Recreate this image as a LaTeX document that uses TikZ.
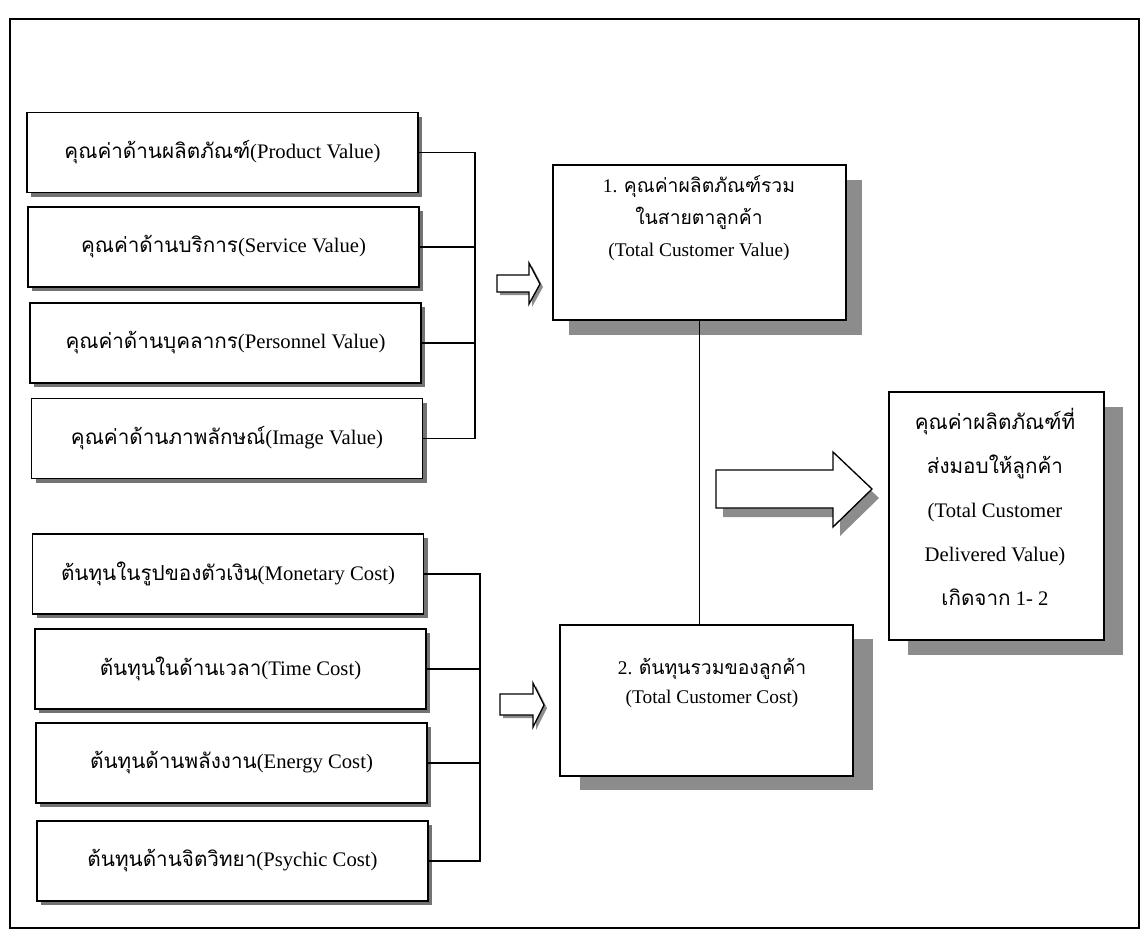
\documentclass[tikz,border=0pt]{standalone}
\usepackage{fontspec}
\setmainfont{Liberation Serif}
\newfontfamily\thai[Script=Thai]{Loma}
\usetikzlibrary{shadows}
\newcommand{\T}[1]{{\thai #1}}
\begin{document}
\begin{tikzpicture}[x=0.75pt,y=-0.75pt,line join=miter,
  lbox/.style={draw,line width=1.3pt,fill=white,minimum width=293.25pt,minimum height=60pt,inner sep=0pt,
    font=\fontsize{15.5}{18}\selectfont,
    drop shadow={shadow xshift=3pt,shadow yshift=-3pt,fill=black!55,opacity=1}},
  bigbox/.style={draw,line width=1.3pt,fill=white,inner sep=0pt},
  txt/.style={align=center,inner sep=0pt},
  conn/.style={line width=0.9pt},
  blockarrow/.style={draw,line width=1pt,fill=white},
  arrowshadow/.style={fill=black!45}]
\useasboundingbox (0,0) rectangle (1142,933);
% outer frame
\draw[line width=1.2pt] (10,19) rectangle (1139,928);

% value boxes
\node[lbox] (p1) at (222.5,152.5) {\T{คุณค่าด้านผลิตภัณฑ์}(Product Value)};
\node[lbox] (p2) at (223.5,247) {\T{คุณค่าด้านบริการ}(Service Value)};
\node[lbox] (p3) at (225.5,343) {\T{คุณค่าด้านบุคลากร}(Personnel Value)};
\node[lbox] (p4) at (227,438.5) {\T{คุณค่าด้านภาพลักษณ์}(Image Value)};
% cost boxes
\node[lbox] (c1) at (228,574) {\T{ต้นทุนในรูปของตัวเงิน}(Monetary Cost)};
\node[lbox] (c2) at (230.5,669) {\T{ต้นทุนในด้านเวลา}(Time Cost)};
\node[lbox] (c3) at (231.5,763) {\T{ต้นทุนด้านพลังงาน}(Energy Cost)};
\node[lbox] (c4) at (232.5,861) {\T{ต้นทุนด้านจิตวิทยา}(Psychic Cost)};

% bus connectors
\coordinate (vx1) at (475,0);
\coordinate (vx2) at (480,0);
\draw[conn] (p1.east) -| (p4.east -| vx1) -- (p4.east);
\draw[conn] (p2.east) -- (p2.east -| vx1);
\draw[conn] (p3.east) -- (p3.east -| vx1);
\draw[conn] (c1.east) -| (c4.east -| vx2) -- (c4.east);
\draw[conn] (c2.east) -- (c2.east -| vx2);
\draw[conn] (c3.east) -- (c3.east -| vx2);

% middle boxes
\node[bigbox,minimum width=219.75pt,minimum height=116.25pt,
  drop shadow={shadow xshift=12pt,shadow yshift=-11pt,fill=black!45,opacity=1}] (b1) at (699.5,242.5) {};
\node[txt,font=\fontsize{14.5}{24}\selectfont] (b1t) at (699,218)
  {1. \T{คุณค่าผลิตภัณฑ์รวม}\\ \T{ในสายตาลูกค้า}\\ (Total Customer Value)};
\node[bigbox,minimum width=219.75pt,minimum height=113.25pt,
  drop shadow={shadow xshift=15pt,shadow yshift=-10.5pt,fill=black!45,opacity=1}] (b2) at (706.5,700.5) {};
\node[txt,font=\fontsize{14.5}{22}\selectfont] (b2t) at (712,683)
  {2. \T{ต้นทุนรวมของลูกค้า}\\ (Total Customer Cost)};

% right box
\node[bigbox,minimum width=161.25pt,minimum height=186pt,
  drop shadow={shadow xshift=14pt,shadow yshift=-11pt,fill=black!45,opacity=1}] (r) at (996.5,516) {};
\node[txt,font=\fontsize{15.5}{33}\selectfont] (rt) at (995,507)
  {\T{คุณค่าผลิตภัณฑ์ที่}\\ \T{ส่งมอบให้ลูกค้า}\\ (Total Customer\\ Delivered Value)\\ \T{เกิดจาก} 1- 2};

% connector between box 1 and box 2
\draw[conn] (b1.south) -- (b2.north -| b1.south);

% block arrows
\fill[arrowshadow,shift={(3,3)}] (497,275) -- (529,275) -- (529,263) -- (540,284) -- (529,304) -- (529,292) -- (497,292) -- cycle;
\draw[blockarrow] (497,275) -- (529,275) -- (529,263) -- (540,284) -- (529,304) -- (529,292) -- (497,292) -- cycle;
\fill[arrowshadow,shift={(3,3)}] (500,694) -- (533,694) -- (533,683) -- (544,705) -- (533,727) -- (533,715) -- (500,715) -- cycle;
\draw[blockarrow] (500,694) -- (533,694) -- (533,683) -- (544,705) -- (533,727) -- (533,715) -- (500,715) -- cycle;
\fill[arrowshadow,shift={(7,9)}] (716,470) -- (833,470) -- (833,452) -- (872,489) -- (833,527) -- (833,508) -- (716,508) -- cycle;
\draw[blockarrow] (716,470) -- (833,470) -- (833,452) -- (872,489) -- (833,527) -- (833,508) -- (716,508) -- cycle;
\end{tikzpicture}
\end{document}
